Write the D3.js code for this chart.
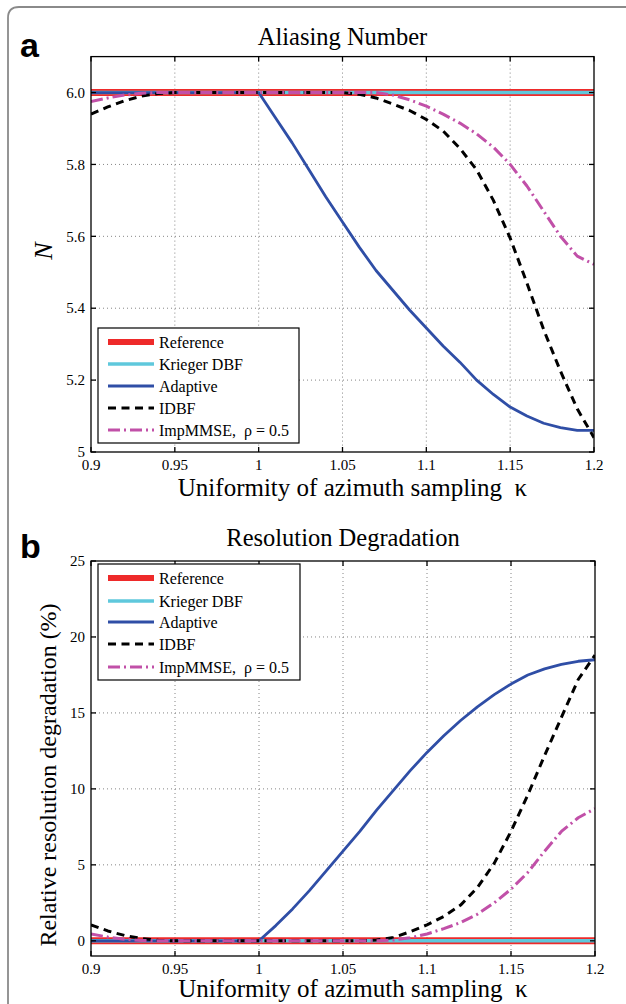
<!DOCTYPE html>
<html>
<head>
<meta charset="utf-8">
<script src="https://cdn.jsdelivr.net/npm/d3@7"></script>
<style>
  html, body { margin: 0; padding: 0; background: #fff; }
  svg text { font-family: "Liberation Serif", "Times New Roman", serif; fill: #000; }
</style>
</head>
<body>
<svg id="fig" width="626" height="1004"></svg>
<script>
// ---------- data ----------
const kappa = [0.90,0.91,0.92,0.93,0.94,0.95,0.96,0.97,0.98,0.99,1.00,1.01,1.02,1.03,1.04,1.05,1.06,1.07,1.08,1.09,1.10,1.11,1.12,1.13,1.14,1.15,1.16,1.17,1.18,1.19,1.20];

const seriesNames = ["Reference", "Krieger DBF", "Adaptive", "IDBF", "ImpMMSE,  \u03c1 = 0.5"];

// Panel a: aliasing number N
const referenceN = [6,6,6,6,6,6,6,6,6,6,6,6,6,6,6,6,6,6,6,6,6,6,6,6,6,6,6,6,6,6,6];
const kriegerN   = [6,6,6,6,6,6,6,6,6,6,6,6,6,6,6,6,6,6,6,6,6,6,6,6,6,6,6,6,6,6,6];
const adaptiveN  = [6,6,6,6,6,6,6,6,6,6,6,5.93,5.86,5.785,5.71,5.64,5.57,5.505,5.45,5.395,5.345,5.295,5.25,5.20,5.16,5.125,5.10,5.08,5.068,5.06,5.06];
const idbfN      = [5.94,5.96,5.977,5.99,5.997,6,6,6,6,6,6,6,6,6,6,6,5.995,5.985,5.968,5.95,5.925,5.893,5.845,5.785,5.70,5.595,5.47,5.34,5.225,5.12,5.04];
const impN       = [5.975,5.985,5.993,5.998,6,6,6,6,6,6,6,6,6,6,6,6,6,6,5.993,5.98,5.962,5.94,5.915,5.885,5.848,5.80,5.74,5.67,5.60,5.545,5.522];

// Panel b: relative resolution degradation (%)
const referenceR = [0,0,0,0,0,0,0,0,0,0,0,0,0,0,0,0,0,0,0,0,0,0,0,0,0,0,0,0,0,0,0];
const kriegerR   = [0,0,0,0,0,0,0,0,0,0,0,0,0,0,0,0,0,0,0,0,0,0,0,0,0,0,0,0,0,0,0];
const adaptiveR  = [0,0,0,0,0,0,0,0,0,0,0,1.0,2.1,3.3,4.6,5.9,7.2,8.6,9.9,11.2,12.4,13.5,14.5,15.4,16.2,16.9,17.5,17.9,18.2,18.4,18.5];
const idbfR      = [1.05,0.65,0.35,0.15,0.03,0,0,0,0,0,0,0,0,0,0,0,0,0.05,0.22,0.6,1.05,1.6,2.35,3.5,5.1,7.2,9.6,12.2,14.7,17.2,18.8];
const impR       = [0.45,0.25,0.10,0.02,0,0,0,0,0,0,0,0,0,0,0,0,0,0,0.05,0.2,0.45,0.8,1.2,1.75,2.5,3.4,4.5,5.9,7.2,8.1,8.7];

const xTicks = [0.9,0.95,1,1.05,1.1,1.15,1.2];
const xTickLabels = ["0.9","0.95","1","1.05","1.1","1.15","1.2"];
const yTicksA = [5,5.2,5.4,5.6,5.8,6.0];
const yTickLabelsA = ["5","5.2","5.4","5.6","5.8","6.0"];
const yTicksB = [0,5,10,15,20,25];
const yTickLabelsB = ["0","5","10","15","20","25"];

// ---------- styles ----------
const styles = [
  {color:"#ee2a2a", width:7,   dash:null},
  {color:"#5fc8dc", width:3.6, dash:null},
  {color:"#2f4ea6", width:2.8, dash:null},
  {color:"#000000", width:3,   dash:"8,5.5"},
  {color:"#c150a8", width:3,   dash:"12,4,2,4"}
];
const legendLineW = [6, 3.6, 3.2, 3.2, 3.2];

const svg = d3.select("#fig");

// outer panel border (rounded)
svg.append("path")
  .attr("d", "M8,1010 L8,18 Q8,7 19,7 L640,7")
  .attr("fill","none").attr("stroke","#8a8a8a").attr("stroke-width",1.8);

function panel(opt) {
  const {x0,x1,y0,y1,yDomain,yTicks,yLabels,series,title,titleY,letter,letterY,xlabelGap,ylabel,ylabelItalic,ylabelX,ylabelY,ylabelSize,legend} = opt;
  const x = d3.scaleLinear().domain([0.9,1.2]).range([x0,x1]);
  const y = d3.scaleLinear().domain(yDomain).range([y1,y0]);
  const g = svg.append("g");
  const clipId = "clip" + letter;
  svg.append("clipPath").attr("id",clipId).append("rect")
    .attr("x",x0).attr("y",y0).attr("width",x1-x0).attr("height",y1-y0);

  // grid
  const grid = g.append("g").attr("stroke","#777").attr("stroke-width",0.9).attr("stroke-dasharray","1,3");
  xTicks.forEach(t => {
    if (t > 0.9 && t < 1.2) grid.append("line").attr("x1",x(t)).attr("x2",x(t)).attr("y1",y0).attr("y2",y1);
  });
  yTicks.forEach(t => {
    if (t > yDomain[0] && t < yDomain[1]) grid.append("line").attr("x1",x0).attr("x2",x1).attr("y1",y(t)).attr("y2",y(t));
  });

  // series
  const line = d3.line().x((d,i)=>x(kappa[i])).y(d=>y(d));
  const sg = g.append("g").attr("clip-path",`url(#${clipId})`);
  series.forEach((s,i) => {
    const p = sg.append("path").attr("d", line(s)).attr("fill","none")
      .attr("stroke", styles[i].color).attr("stroke-width", styles[i].width)
      .attr("stroke-linejoin","round");
    if (styles[i].dash) p.attr("stroke-dasharray", styles[i].dash);
  });

  // axes frame and ticks
  const ax = g.append("g").attr("stroke","#000").attr("stroke-width",1.3);
  ax.append("rect").attr("x",x0).attr("y",y0).attr("width",x1-x0).attr("height",y1-y0).attr("fill","none");
  xTicks.forEach(t => {
    ax.append("line").attr("x1",x(t)).attr("x2",x(t)).attr("y1",y1).attr("y2",y1-5);
    ax.append("line").attr("x1",x(t)).attr("x2",x(t)).attr("y1",y0).attr("y2",y0+5);
  });
  yTicks.forEach(t => {
    ax.append("line").attr("x1",x0).attr("x2",x0+5).attr("y1",y(t)).attr("y2",y(t));
    ax.append("line").attr("x1",x1).attr("x2",x1-5).attr("y1",y(t)).attr("y2",y(t));
  });

  // tick labels
  xTicks.forEach((t,i) => {
    g.append("text").attr("x",x(t)).attr("y",y1+18).attr("text-anchor","middle")
      .attr("font-size",15).text(xTickLabels[i]);
  });
  yTicks.forEach((t,i) => {
    g.append("text").attr("x",x0-6).attr("y",y(t)).attr("dy","0.35em").attr("text-anchor","end")
      .attr("font-size",15).text(yLabels[i]);
  });

  // title
  g.append("text").attr("x",(x0+x1)/2).attr("y",titleY).attr("text-anchor","middle")
    .attr("font-size",24.5).text(title);
  // letter
  g.append("text").attr("x",20).attr("y",letterY).attr("font-size",34).attr("font-weight","bold")
    .style("font-family","'Liberation Sans', Arial, sans-serif").text(letter);
  // x label
  g.append("text").attr("x",(x0+x1)/2 + 10).attr("y",y1+xlabelGap).attr("text-anchor","middle")
    .attr("font-size",25).attr("xml:space","preserve").text("Uniformity of azimuth sampling  \u03ba");
  // y label
  g.append("text").attr("transform",`translate(${ylabelX},${ylabelY}) rotate(-90)`)
    .attr("text-anchor","middle").attr("font-size",ylabelSize)
    .attr("font-style", ylabelItalic ? "italic" : "normal").text(ylabel);

  // legend
  const lg = g.append("g");
  lg.append("rect").attr("x",legend.x).attr("y",legend.y).attr("width",legend.w).attr("height",legend.h)
    .attr("fill","#fff").attr("stroke","#000").attr("stroke-width",1.2);
  seriesNames.forEach((name,i) => {
    const yy = legend.rows[i];
    const l = lg.append("line").attr("x1",legend.x+10).attr("x2",legend.x+56).attr("y1",yy).attr("y2",yy)
      .attr("stroke",styles[i].color).attr("stroke-width",legendLineW[i]);
    if (styles[i].dash) l.attr("stroke-dasharray", styles[i].dash);
    lg.append("text").attr("x",legend.x+61).attr("y",yy).attr("dy","0.35em")
      .attr("font-size",16).attr("xml:space","preserve").text(name);
  });
}

panel({
  x0:91, x1:594, y0:56.6, y1:452, yDomain:[5,6.1], yTicks:yTicksA, yLabels:yTickLabelsA,
  series:[referenceN,kriegerN,adaptiveN,idbfN,impN],
  title:"Aliasing Number", titleY:45, letter:"a", letterY:57, xlabelGap:44,
  ylabel:"N", ylabelItalic:true, ylabelX:52, ylabelY:251, ylabelSize:26,
  legend:{x:98, y:328, w:201, h:115, rows:[342,364,386,408,430]}
});

panel({
  x0:91, x1:595, y0:561, y1:956, yDomain:[-1,25], yTicks:yTicksB, yLabels:yTickLabelsB,
  series:[referenceR,kriegerR,adaptiveR,idbfR,impR],
  title:"Resolution Degradation", titleY:546, letter:"b", letterY:558, xlabelGap:41,
  ylabel:"Relative resolution degradation (%)", ylabelItalic:false, ylabelX:56, ylabelY:775, ylabelSize:24,
  legend:{x:98, y:564, w:202, h:116, rows:[578,601,622,644,667]}
});
</script>
</body>
</html>
